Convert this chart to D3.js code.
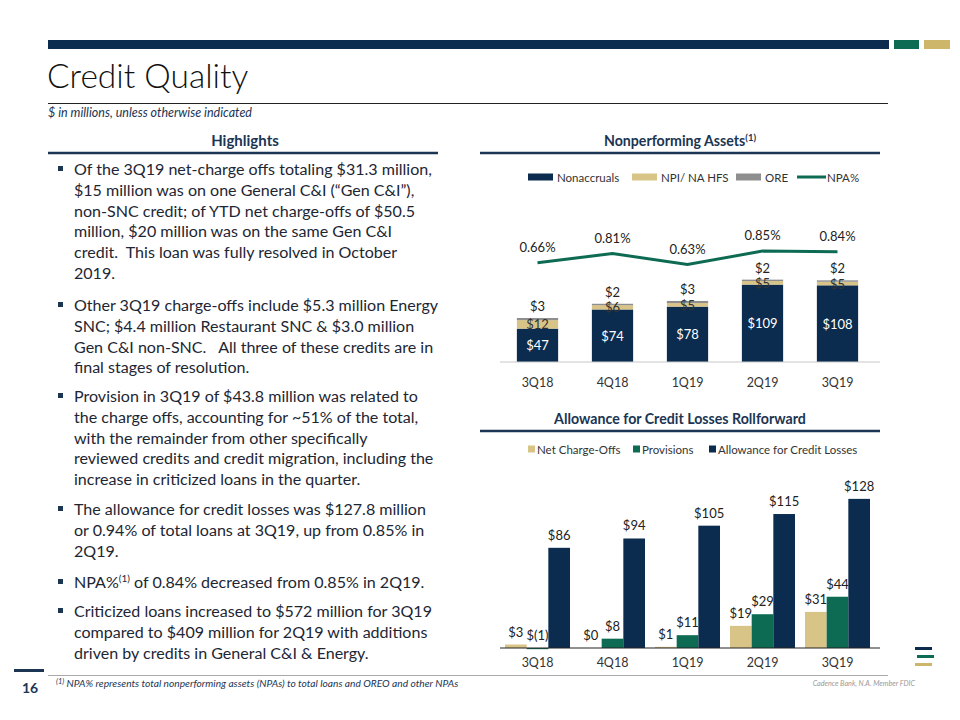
<!DOCTYPE html>
<html><head><meta charset="utf-8">
<script src="https://cdn.jsdelivr.net/npm/d3@7"></script>
<style>
html,body{margin:0;padding:0;background:#fff;}
svg{display:block;font-family:Lato,"Open Sans",sans-serif;}
text{white-space:pre;}
</style></head>
<body><svg id="c" width="960" height="720"></svg>
<script>
// ---------- data ----------
const quarters = ["3Q18","4Q18","1Q19","2Q19","3Q19"];
const nonaccruals = [47,74,78,109,108];
const npiNaHfs = [12,6,5,5,5];
const ore = [3,2,3,2,2];
const npaPct = [0.66,0.81,0.63,0.85,0.84];
const netChargeOffs = [3,0,1,19,31];
const provisions = [-1,8,11,29,44];
const allowance = [86,94,105,115,128];
const npaLegend = ["Nonaccruals","NPI/ NA HFS","ORE","NPA%"];
const aclLegend = ["Net Charge-Offs","Provisions","Allowance for Credit Losses"];
const bullets = [
  ["Of the 3Q19 net-charge offs totaling $31.3 million,","$15 million was on one General C&I (“Gen C&I”),","non-SNC credit; of YTD net charge-offs of $50.5","million, $20 million was on the same Gen C&I","credit.  This loan was fully resolved in October","2019."],
  ["Other 3Q19 charge-offs include $5.3 million Energy","SNC; $4.4 million Restaurant SNC & $3.0 million","Gen C&I non-SNC.   All three of these credits are in","final stages of resolution."],
  ["Provision in 3Q19 of $43.8 million was related to","the charge offs, accounting for ~51% of the total,","with the remainder from other specifically","reviewed credits and credit migration, including the","increase in criticized loans in the quarter."],
  ["The allowance for credit losses was $127.8 million","or 0.94% of total loans at 3Q19, up from 0.85% in","2Q19."],
  ["NPA%^(1)^ of 0.84% decreased from 0.85% in 2Q19."],
  ["Criticized loans increased to $572 million for 3Q19","compared to $409 million for 2Q19 with additions","driven by credits in General C&I & Energy."]
];

const NAVY="#0b2c4f", GREEN="#0e6b53", GOLD="#d8c487", GRAY="#8e8e8e", HEAD="#1b3553";
const svg = d3.select("#c");

// ---------- frame ----------
svg.append("rect").attr("x",48).attr("y",40).attr("width",841).attr("height",9).attr("fill",NAVY);
svg.append("rect").attr("x",894).attr("y",40).attr("width",25).attr("height",9).attr("fill",GREEN);
svg.append("rect").attr("x",924).attr("y",40).attr("width",26).attr("height",9).attr("fill","#cdb66a");
svg.append("text").attr("x",47).attr("y",88).attr("font-size",33.5).attr("fill","#111").attr("font-weight",300).text("Credit Quality");
svg.append("line").attr("x1",48).attr("x2",888).attr("y1",103.5).attr("y2",103.5).attr("stroke","#222").attr("stroke-width",1);
svg.append("text").attr("x",48).attr("y",117).attr("font-size",12.5).attr("font-style","italic").attr("fill",HEAD).text("$ in millions, unless otherwise indicated");

function header(txt, cx, y, lx1, lx2, sup, fs){
  const t = svg.append("text").attr("x",cx).attr("y",y).attr("text-anchor","middle").attr("font-size",fs||14).attr("font-weight",700).attr("fill",HEAD);
  t.append("tspan").text(txt);
  if(sup) t.append("tspan").attr("font-size",9.5).attr("dy",-5).text(sup);
  svg.append("line").attr("x1",lx1).attr("x2",lx2).attr("y1",y+7).attr("y2",y+7).attr("stroke",HEAD).attr("stroke-width",2.5);
}
header("Highlights",245,146,48,438,null,15);
header("Nonperforming Assets",680,146,480,880,"(1)",14.2);
header("Allowance for Credit Losses Rollforward",680,424,480,880,null,14.2);

// ---------- bullets ----------
const paraY = [175,311,402,515,588,617];
const lh = 20.8;
bullets.forEach((p,i)=>{
  svg.append("rect").attr("x",58).attr("y",paraY[i]-9).attr("width",5).attr("height",5).attr("fill",HEAD);
  p.forEach((ln,j)=>{
    const t = svg.append("text").attr("class","bl").attr("x",74).attr("y",paraY[i]+j*lh).attr("font-size",15.2).attr("fill","#1d2633");
    if(ln.includes("^")){
      const parts = ln.split("^");
      t.append("tspan").text(parts[0]);
      t.append("tspan").attr("font-size",10).attr("dy",-6).text(parts[1]);
      t.append("tspan").attr("dy",6).text(parts[2]);
    } else t.text(ln);
  });
});
(function(){
  const first = svg.select("text.bl").node();
  const w = first.getComputedTextLength();
  const fs = 15.2*358/w;
  svg.selectAll("text.bl").attr("font-size",fs);
})();

// ---------- NPA chart ----------
const x = d3.scaleBand().domain(quarters).range([500,875]).paddingInner(0.45).paddingOuter(0.225);
const y = d3.scaleLinear().domain([0,130]).range([362,362-130*0.71]);
const y2 = d3.scaleLinear().domain([0.5,1.0]).range([272.6,241.8]);

const stackData = quarters.map((q,i)=>({q, nonaccruals:nonaccruals[i], npi:npiNaHfs[i], ore:ore[i]}));
const stack = d3.stack().keys(["nonaccruals","npi","ore"])(stackData);
const sColors = {nonaccruals:NAVY, npi:GOLD, ore:GRAY};
const g1 = svg.append("g");
stack.forEach(layer=>{
  g1.selectAll(null).data(layer).join("rect")
    .attr("x",d=>x(d.data.q)).attr("width",x.bandwidth())
    .attr("y",d=>y(d[1])).attr("height",d=>y(d[0])-y(d[1]))
    .attr("fill",sColors[layer.key]);
});
const ax1 = svg.append("g").attr("transform","translate(0,362)").call(d3.axisBottom(x).tickSize(0).tickPadding(16));
ax1.select(".domain").attr("d","M500,0H880").attr("stroke","#c8c8c8").attr("stroke-width",1.2);
ax1.selectAll("text").attr("font-size",12.5).attr("fill","#333").attr("font-family","Lato,sans-serif");

const lbl = (sel)=>sel.attr("text-anchor","middle").attr("dominant-baseline","central").attr("font-size",13);
stack[0].forEach(d=>{
  lbl(svg.append("text")).attr("x",x(d.data.q)+x.bandwidth()/2).attr("y",(y(d[0])+y(d[1]))/2).attr("fill","#fff").text("$"+d.data.nonaccruals);
});
stack[1].forEach(d=>{
  lbl(svg.append("text")).attr("x",x(d.data.q)+x.bandwidth()/2).attr("y",(y(d[0])+y(d[1]))/2).attr("fill","#333").text("$"+d.data.npi);
});
stack[2].forEach(d=>{
  lbl(svg.append("text")).attr("x",x(d.data.q)+x.bandwidth()/2).attr("y",y(d[1])-12).attr("fill","#222").text("$"+d.data.ore);
});
const line = d3.line().x((d,i)=>x(quarters[i])+x.bandwidth()/2).y(d=>y2(d));
svg.append("path").datum(npaPct).attr("d",line).attr("fill","none").attr("stroke",GREEN).attr("stroke-width",3);
npaPct.forEach((v,i)=>{
  lbl(svg.append("text")).attr("x",x(quarters[i])+x.bandwidth()/2).attr("y",y2(v)-16).attr("fill","#222").text(v.toFixed(2)+"%");
});
const leg1 = [{x:528,w:25,c:NAVY,t:npaLegend[0]},{x:632,w:25,c:GOLD,t:npaLegend[1]},{x:736,w:25,c:GRAY,t:npaLegend[2]}];
leg1.forEach(l=>{
  svg.append("rect").attr("x",l.x).attr("y",173.5).attr("width",l.w).attr("height",7).attr("fill",l.c);
  svg.append("text").attr("x",l.x+l.w+4).attr("y",177).attr("dominant-baseline","central").attr("font-size",11.5).attr("fill","#333").text(l.t);
});
svg.append("line").attr("x1",797).attr("x2",826).attr("y1",177).attr("y2",177).attr("stroke",GREEN).attr("stroke-width",3);
svg.append("text").attr("x",827).attr("y",177).attr("dominant-baseline","central").attr("font-size",11.5).attr("fill","#333").text(npaLegend[3]);

// ---------- Allowance chart ----------
const xo = d3.scaleBand().domain(quarters).range([500,875]).paddingInner(10/75).paddingOuter(5/75);
const keys = ["nco","prov","acl"];
const xi = d3.scaleBand().domain(keys).range([0,xo.bandwidth()]);
const ya = d3.scaleLinear().domain([0,130]).range([648,648-130*1.165]);
const aColors = {nco:GOLD, prov:GREEN, acl:NAVY};
const aData = quarters.map((q,i)=>({q, vals:{nco:netChargeOffs[i], prov:provisions[i], acl:allowance[i]}}));
const fmt = v => v<0 ? "$("+Math.abs(v)+")" : "$"+v;
const g2 = svg.append("g");
aData.forEach(d=>{
  keys.forEach(k=>{
    const v = d.vals[k];
    const bx = xo(d.q)+xi(k);
    g2.append("rect").attr("x",bx).attr("width",xi.bandwidth())
      .attr("y",ya(Math.max(0,v))).attr("height",Math.abs(ya(v)-ya(0)))
      .attr("fill",aColors[k]);
    lbl(svg.append("text")).attr("x",bx+xi.bandwidth()/2).attr("y",ya(Math.max(0,v))-13).attr("fill","#222").text(fmt(v));
  });
});
const ax2 = svg.append("g").attr("transform","translate(0,648)").call(d3.axisBottom(xo).tickSize(0).tickPadding(10));
ax2.select(".domain").attr("d","M500,0H880").attr("stroke","#222").attr("stroke-width",1.2);
ax2.selectAll("text").attr("font-size",12.5).attr("fill","#333").attr("font-family","Lato,sans-serif");
const leg2 = [{x:528,c:GOLD,t:aclLegend[0]},{x:633,c:GREEN,t:aclLegend[1]},{x:709,c:NAVY,t:aclLegend[2]}];
leg2.forEach(l=>{
  svg.append("rect").attr("x",l.x).attr("y",445.5).attr("width",7).attr("height",7).attr("fill",l.c);
  svg.append("text").attr("x",l.x+9).attr("y",449).attr("dominant-baseline","central").attr("font-size",11.5).attr("fill","#333").text(l.t);
});

// ---------- footer ----------
svg.append("rect").attr("x",14).attr("y",669).attr("width",30).attr("height",3).attr("fill",HEAD);
svg.append("line").attr("x1",48).attr("x2",888).attr("y1",675.5).attr("y2",675.5).attr("stroke","#aaa").attr("stroke-width",1);
svg.append("text").attr("x",30).attr("y",693).attr("text-anchor","middle").attr("font-size",14).attr("font-weight",700).attr("fill",HEAD).text("16");
const fn = svg.append("text").attr("x",56).attr("y",687).attr("font-size",10.2).attr("font-style","italic").attr("fill",HEAD);
fn.append("tspan").attr("font-size",7.5).attr("dy",-3).text("(1)");
fn.append("tspan").attr("dy",3).text(" NPA% represents total nonperforming assets (NPAs) to total loans and OREO and other NPAs");
svg.append("text").attr("x",915).attr("y",686).attr("text-anchor","end").attr("font-size",7.2).attr("font-style","italic").attr("fill","#999").text("Cadence Bank, N.A. Member FDIC");
svg.append("rect").attr("x",915).attr("y",647).attr("width",17).attr("height",3).attr("fill",NAVY);
svg.append("rect").attr("x",917).attr("y",655).attr("width",17).attr("height",3).attr("fill",GREEN);
svg.append("rect").attr("x",915).attr("y",663).attr("width",17).attr("height",3).attr("fill","#cdb66a");
</script></body></html>
